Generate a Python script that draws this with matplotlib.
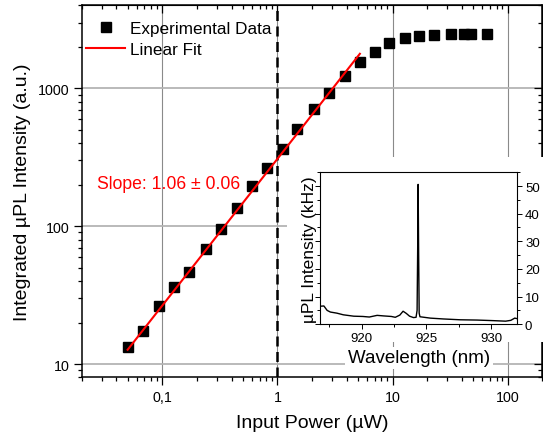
import matplotlib
matplotlib.use('Agg')
import matplotlib.pyplot as plt
import matplotlib.ticker as ticker
from matplotlib.patches import Rectangle

plt.rcParams['font.family'] = ['Liberation Sans', 'DejaVu Sans']

# donnees : puissance (uW) / intensite integree (u.a.)
power = [0.0506, 0.0684, 0.094, 0.127, 0.172, 0.241, 0.326, 0.449, 0.607, 0.818,
         1.11, 1.49, 2.06, 2.78, 3.83, 5.17, 6.97, 9.4, 12.7, 16.8,
         22.7, 31.9, 41.4, 47.7, 65.7]
intensity = [13.3, 17.3, 26.3, 36.1, 46.4, 68.1, 95, 135, 195, 263,
             361, 505, 705, 920, 1222, 1543, 1823, 2119, 2303, 2382,
             2422, 2460, 2460, 2470, 2460]

# extremites de l'ajustement lineaire
fit_power = [0.05, 5.2]
fit_intensity = [12.7, 1780]

# spectre de l'encart
wavelength = [916.8, 917.1, 917.35, 917.6, 918.1, 918.6, 919.4, 920.1, 920.6, 920.9,
              921.2, 921.7, 922.3, 922.6, 922.95, 923.2, 923.45, 923.7, 924.0, 924.2,
              924.28, 924.33, 924.36, 924.40, 924.44, 924.5, 925.3, 926.3, 927.6, 928.9,
              930.1, 931.1, 931.5, 931.8, 932.0]
spectrum = [6.5, 6.6, 5.0, 4.4, 4.0, 3.4, 2.9, 2.8, 2.6, 2.9,
            3.2, 3.0, 2.8, 2.5, 3.3, 4.7, 3.9, 2.9, 2.4, 2.5,
            5.0, 30.0, 50.6, 25.0, 4.0, 2.7, 2.2, 1.9, 1.6, 1.5,
            1.3, 1.1, 1.4, 2.2, 2.0]

xticks_main = [0.1, 1, 10, 100]
xticklabels_main = ['0,1', '1', '10', '100']
yticks_main = [10, 100, 1000]
yticklabels_main = ['10', '100', '1000']

fig = plt.figure(figsize=(5.43, 4.35), dpi=100)
ax = fig.add_axes([0.1507, 0.1301, 0.8481, 0.8554])
ax.set_xscale('log')
ax.set_yscale('log')
ax.set_xlim(0.02, 200)
ax.set_ylim(8, 4000)

# grille
for xv in xticks_main:
    ax.axvline(xv, color='#8a8a8a', lw=0.8, zorder=0)
for yv in yticks_main:
    ax.axhline(yv, color='#b4b4b4', lw=1.3, zorder=0)

ax.axvline(1, color='black', lw=1.8, linestyle=(0, (4, 2.2)), zorder=2)

ax.plot(power, intensity, 's', color='black', ms=7, label='Experimental Data', zorder=3)
ax.plot(fit_power, fit_intensity, '-', color='red', lw=1.5, label='Linear Fit', zorder=4)

ax.text(0.033, 0.522, 'Slope: 1.06 \u00b1 0.06', color='red', fontsize=12.7,
        transform=ax.transAxes, va='center', ha='left')

ax.legend(loc='upper left', bbox_to_anchor=(0.009, 0.958), frameon=False,
          fontsize=12.3, borderaxespad=0, borderpad=0, handlelength=2.3,
          handletextpad=0.3, labelspacing=0.38)

ax.set_xticks(xticks_main)
ax.set_xticklabels(xticklabels_main)
ax.set_yticks(yticks_main)
ax.set_yticklabels(yticklabels_main)
ax.xaxis.set_minor_locator(ticker.LogLocator(base=10, subs=range(2, 10)))
ax.yaxis.set_minor_locator(ticker.LogLocator(base=10, subs=range(2, 10)))
ax.xaxis.set_minor_formatter(ticker.NullFormatter())
ax.yaxis.set_minor_formatter(ticker.NullFormatter())
ax.tick_params(which='both', direction='out', labelsize=10.3, width=0.9)
ax.tick_params(which='major', length=5.5)
ax.tick_params(which='minor', length=3)
for s in ax.spines.values():
    s.set_linewidth(1.1)

# ticks vers l'interieur en haut et a droite
top = ax.secondary_xaxis('top')
top.set_xticks(xticks_main)
top.xaxis.set_minor_locator(ticker.LogLocator(base=10, subs=range(2, 10)))
top.tick_params(which='both', direction='in', labeltop=False, width=0.9)
top.tick_params(which='major', length=5.5)
top.tick_params(which='minor', length=3)
right = ax.secondary_yaxis('right')
right.set_yticks(yticks_main)
right.yaxis.set_minor_locator(ticker.LogLocator(base=10, subs=range(2, 10)))
right.tick_params(which='both', direction='in', labelright=False, width=0.9)
right.tick_params(which='major', length=5.5)
right.tick_params(which='minor', length=3)

ax.set_xlabel('Input Power (\u00b5W)', fontsize=14, labelpad=7)
ax.set_ylabel('Integrated \u00b5PL Intensity (a.u.)', fontsize=14, labelpad=5)

# fond blanc de l'encart
fig.patches.append(Rectangle((0.5285, 0.2115), 0.4715, 0.4253, transform=fig.transFigure,
                             facecolor='white', edgecolor='none', zorder=1))

ins = fig.add_axes([0.5893, 0.2524, 0.3634, 0.3494], zorder=2)
ins.plot(wavelength, spectrum, color='black', lw=1.0)
ins.set_xlim(916.8, 932)
ins.set_ylim(0, 55)
ins.set_xticks([920, 925, 930])
ins.set_yticks([0, 10, 20, 30, 40, 50])
ins.xaxis.set_minor_locator(ticker.MultipleLocator(2.5))
ins.yaxis.set_minor_locator(ticker.MultipleLocator(5))
ins.yaxis.tick_right()
ins.yaxis.set_ticks_position('both')
ins.tick_params(axis='y', which='both', direction='out', labelleft=False, labelright=True,
                labelsize=9.5, width=0.7, pad=2)
ins.tick_params(axis='x', which='both', direction='out', labelsize=9.5, width=0.7, pad=2)
ins.tick_params(which='major', length=3.5)
ins.tick_params(which='minor', length=2)
for s in ins.spines.values():
    s.set_linewidth(0.8)
ins.yaxis.set_label_position('left')
ins.set_ylabel('\u00b5PL Intensity (kHz)', fontsize=12.5, labelpad=-1)
ins.set_xlabel('Wavelength (nm)', fontsize=13.5, labelpad=4,
               bbox=dict(facecolor='white', edgecolor='none', pad=2))

fig.savefig('out.png', dpi=100)
